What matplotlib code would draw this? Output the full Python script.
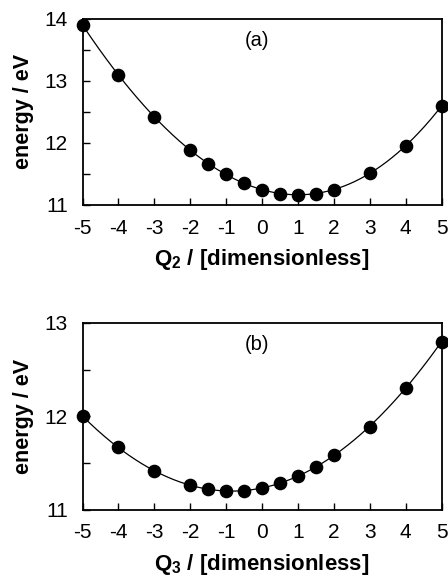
import numpy as np
import matplotlib
matplotlib.use("Agg")
import matplotlib.pyplot as plt
from matplotlib.ticker import MultipleLocator

plt.rcParams['font.family'] = ['Liberation Sans', 'DejaVu Sans']
plt.rcParams['mathtext.fontset'] = 'custom'
plt.rcParams['mathtext.rm'] = 'Liberation Sans'
plt.rcParams['mathtext.bf'] = 'Liberation Sans:bold'

# Data
q_values = [-5, -4, -3, -2, -1.5, -1, -0.5, 0, 0.5, 1, 1.5, 2, 3, 4, 5]
energy_q2 = [13.90, 13.09, 12.42, 11.88, 11.66, 11.49, 11.35, 11.24, 11.18, 11.16,
             11.18, 11.24, 11.51, 11.95, 12.59]
energy_q3 = [12.00, 11.67, 11.41, 11.26, 11.22, 11.20, 11.20, 11.23, 11.28, 11.36,
             11.46, 11.58, 11.89, 12.30, 12.80]
x_ticks = [-5, -4, -3, -2, -1, 0, 1, 2, 3, 4, 5]
panels = [
    dict(energy=energy_q2, ylim=(11, 14), yticks=[11, 12, 13, 14], tag='(a)',
         xlabel=r'Q$_{\mathbf{2}}$ / [dimensionless]'),
    dict(energy=energy_q3, ylim=(11, 13), yticks=[11, 12, 13], tag='(b)',
         xlabel=r'Q$_{\mathbf{3}}$ / [dimensionless]'),
]

W, H = 448, 575
fig = plt.figure(figsize=(W / 100, H / 100), dpi=100)
boxes = [(82.5, 441.5, 18.7, 204.7), (82.5, 441.5, 323.0, 509.5)]

for p, (l, r, t, b) in zip(panels, boxes):
    ax = fig.add_axes([l / W, 1 - b / H, (r - l) / W, (b - t) / H])
    x = np.array(q_values, dtype=float)
    y = np.array(p['energy'])
    coef = np.polyfit(x, y, 4)
    xs = np.linspace(-5, 5, 400)
    ax.plot(xs, np.polyval(coef, xs), color='black', lw=0.9, clip_on=False)
    ax.plot(x, y, 'o', color='black', ms=8.8, clip_on=False, zorder=3)
    ax.set_xlim(-5, 5)
    ax.set_ylim(*p['ylim'])
    ax.set_xticks(x_ticks)
    ax.set_xticklabels([str(v) for v in x_ticks])
    ax.set_yticks(p['yticks'])
    ax.yaxis.set_minor_locator(MultipleLocator(0.5))
    ax.tick_params(axis='both', which='both', direction='in', length=5, width=1.0,
                   labelsize=15)
    ax.tick_params(axis='x', which='both', top=False, pad=10)
    ax.tick_params(axis='y', which='both', right=False, pad=10.5)
    for s in ax.spines.values():
        s.set_linewidth(1.3)
    ax.set_ylabel('energy / eV', fontsize=15.5, fontweight='bold', va='center')
    ax.yaxis.set_label_coords(-0.163, 0.5)
    ax.set_xlabel(p['xlabel'], fontsize=16, fontweight='bold', va='baseline')
    ax.xaxis.set_label_coords(0.5, -60.6 / (b - t))
    ax.text(0.487, 1 - 21.3 / (b - t), p['tag'], transform=ax.transAxes,
            ha='center', va='center', fontsize=14.5)

fig.savefig('out.png', dpi=100)
